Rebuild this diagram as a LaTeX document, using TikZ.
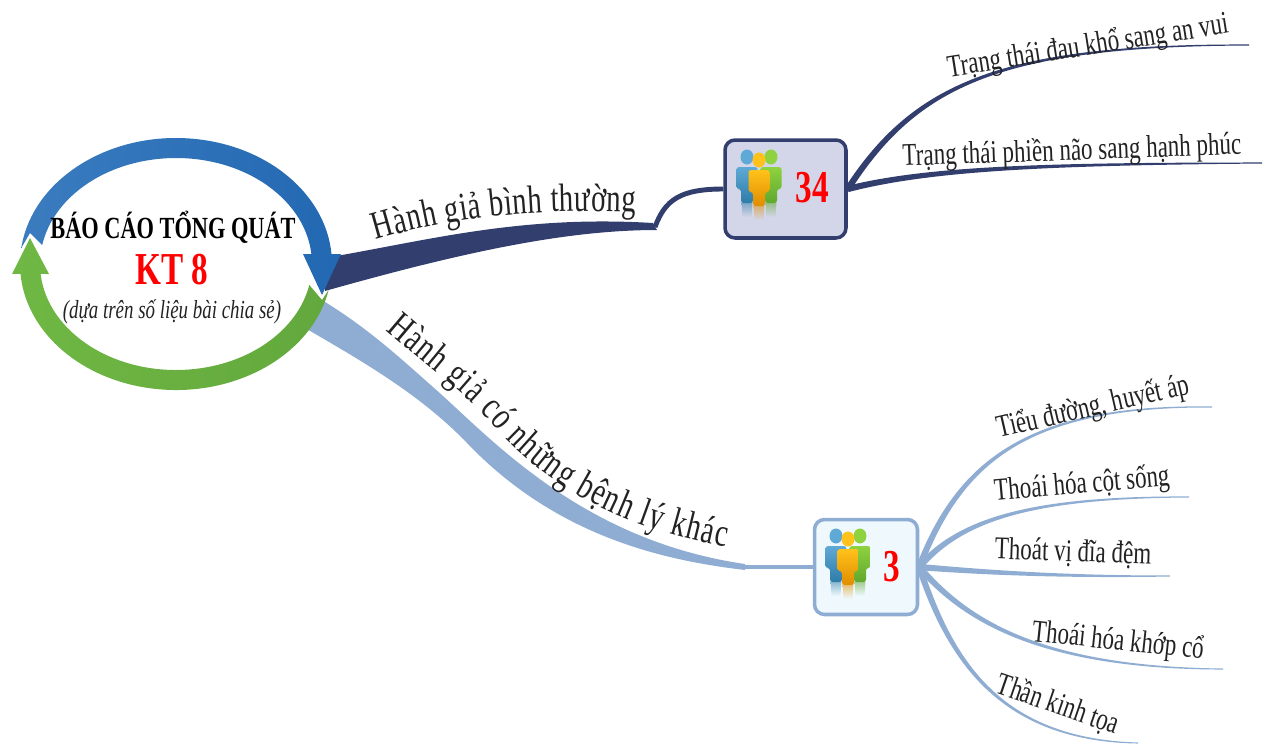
\documentclass[tikz,border=0pt]{standalone}
\usepackage{fontspec}
\usetikzlibrary{calc,decorations.text}
\setmainfont[FakeStretch=0.727]{Liberation Serif}
\definecolor{darkbranch}{HTML}{323E6D}
\definecolor{lightbranch}{HTML}{8FADD3}
\definecolor{boxdark}{HTML}{D3D6E8}
\definecolor{boxlight}{HTML}{EFF9FD}
\definecolor{textink}{HTML}{222222}
\definecolor{headblue}{HTML}{5FA9D6}
\definecolor{footblue}{HTML}{2E7CA8}
\definecolor{headgreen}{HTML}{8FD23F}
\definecolor{footgreen}{HTML}{5FA82F}
\definecolor{headorange}{HTML}{FFC21A}
\definecolor{footorange}{HTML}{E08C00}
\definecolor{ringblueA}{HTML}{3B7CBF}
\definecolor{ringblueB}{HTML}{2268B2}
\definecolor{ringgreenA}{HTML}{70B844}
\definecolor{ringgreenB}{HTML}{62A83D}
\newcommand{\branchfont}{\fontsize{22.5}{25}\selectfont\color{textink}}
% tapered curve: style, start, control, control, end
\newcommand{\leafline}[5]{%
\fill[#1] ($(#2)!1.8pt!90:(#3)$)
 .. controls ($(#3)!1.5pt!-90:(#2)$) and ($(#4)!.8pt!90:(#5)$) .. ($(#5)!.3pt!-90:(#4)$)
 -- ($(#5)!.3pt!90:(#4)$)
 .. controls ($(#4)!.8pt!-90:(#5)$) and ($(#3)!1.5pt!90:(#2)$) .. ($(#2)!1.8pt!-90:(#3)$) -- cycle;}
\tikzset{
  leaflabel/.style={font=\fontsize{18}{20}\selectfont, text=textink, inner sep=0pt},
  countlabel/.style={font=\fontsize{26}{28}\selectfont\bfseries, text=red, inner sep=0pt},
  groupbox/.style={rounded corners=.2cm, line width=2pt, inner sep=0pt},
  pics/person/.style n args={3}{code={
    \path[top color=#3!55!boxtone, bottom color=boxtone] (-5.5,-45) -- (5.5,-45) -- (4.5,-60) -- (-4.5,-60) -- cycle;
    \path[top color=#1, bottom color=#2, rounded corners=1.5pt] (-10.5,-10) -- (10.5,-10) -- (10.5,-32) -- (6,-32)
      -- (6,-46) -- (-6,-46) -- (-6,-32) -- (-10.5,-32) -- cycle;
    \fill[#1] (0,0) ellipse (6.5 and 7.5);
  }},
  pics/people/.style={code={
    \colorlet{boxtone}{#1}
    \pic at (-12,23) {person={headblue}{footblue}{footblue}};
    \pic at (12,23) {person={headgreen}{footgreen}{footgreen}};
    \pic at (0,20) {person={headorange}{footorange}{footorange}};
  }},
}
\begin{document}
\begin{tikzpicture}[x=0.02cm,y=0.02cm]
\useasboundingbox (0,0) rectangle (1269,-745);
\coordinate (ring) at (176,-264);
\coordinate (darkelbow) at (655,-227);
\coordinate (lightelbow) at (742,-567);
\coordinate (darkhead) at (376,-240);
\coordinate (darkend) at (636,-212);
\coordinate (lighthead) at (386,-330);
\coordinate (lightend) at (726,-547);
% group boxes
\node[groupbox, draw=darkbranch, fill=boxdark, minimum width=2.42cm, minimum height=1.96cm] (group1) at (785.5,-189) {};
\node[groupbox, draw=lightbranch, fill=boxlight, minimum width=2.06cm, minimum height=1.9cm] (group2) at (866,-567) {};
\pic at (759,-180) {people=boxdark};
\pic at (848,-559) {people=boxlight};
\node[countlabel] (count1) at (812,-188) {34};
\node[countlabel] (count2) at (892,-567) {3};
% main branches
\fill[darkbranch] (325,-258) .. controls (430,-240) and (520,-215) .. (653,-223)
 -- (657,-230) .. controls (570,-230) and (470,-250) .. (325,-291) -- cycle;
\draw[darkbranch, line width=2.8pt] (darkelbow) .. controls (665,-200) and (680,-189) .. (group1.west);
\fill[lightbranch] (315,-296) .. controls (365,-325) and (400,-358) .. (433,-387)
 .. controls (490,-437) and (580,-540) .. (745,-564)
 -- (745,-570) .. controls (660,-560) and (555,-535) .. (467,-443)
 .. controls (420,-394) and (360,-360) .. (305,-328) -- cycle;
\draw[lightbranch, line width=2.8pt] (lightelbow) -- (group2.west);
\path[decorate, decoration={text along path, text align={fit to path},
  text={|\branchfont|Hành giả bình thường}}]
  (darkhead) .. controls (450,-218) and (530,-208) .. (darkend);
\path[decorate, decoration={text along path, text align={fit to path},
  text={|\branchfont|Hành giả có những bệnh lý khác}}]
  (lighthead) .. controls (442,-378) and (472,-398) .. (502,-435)
  .. controls (552,-488) and (622,-528) .. (lightend);
% leaves
\coordinate (leaf1) at (1249,-45);
\coordinate (leaf2) at (1262,-163);
\coordinate (leafa) at (1212,-407);
\coordinate (leafb) at (1189,-497);
\coordinate (leafc) at (1170,-576);
\coordinate (leafd) at (1223,-669);
\coordinate (leafe) at (1138,-743);
\leafline{darkbranch}{group1.east}{915,-85}{1000,-45}{leaf1}
\leafline{darkbranch}{group1.east}{930,-168}{1050,-164}{leaf2}
\leafline{lightbranch}{group2.east}{960,-460}{1030,-405}{leafa}
\leafline{lightbranch}{group2.east}{960,-520}{1030,-497}{leafb}
\leafline{lightbranch}{group2.east}{980,-572}{1060,-577}{leafc}
\leafline{lightbranch}{group2.east}{965,-620}{1040,-668}{leafd}
\leafline{lightbranch}{group2.east}{950,-660}{1000,-740}{leafe}
\node[leaflabel, rotate=9] (labelp) at (1088,-47) {Trạng thái đau khổ sang an vui};
\node[leaflabel, rotate=2] (labelq) at (1072,-152) {Trạng thái phiền não sang hạnh phúc};
\node[leaflabel, rotate=13] (labela) at (1093,-408) {Tiểu đường, huyết áp};
\node[leaflabel, rotate=5] (labelb) at (1082,-485) {Thoái hóa cột sống};
\node[leaflabel, rotate=-2] (labelc) at (1073,-553) {Thoát vị đĩa đệm};
\node[leaflabel, rotate=-6] (labeld) at (1118,-642) {Thoái hóa khớp cổ};
\node[leaflabel, rotate=-19] (labele) at (1058,-705) {Thần kinh tọa};
% ring arrows
\path[left color=ringblueA, right color=ringblueB] ($(ring)+(172.7:156 and 126)$)
 arc[start angle=172.7, end angle=4.5, x radius=156, y radius=126]
 -- (341,-254) -- (322,-295) -- (303,-254) -- ($(ring)+(5.4:136 and 106)$)
 arc[start angle=5.4, end angle=169.7, x radius=136, y radius=106] -- (30,-233) -- cycle;
\path[left color=ringgreenA, right color=ringgreenB] ($(ring)+(-11.9:156 and 126)$)
 arc[start angle=-11.9, end angle=-175.5, x radius=156, y radius=126]
 -- (12,-274) -- (30,-238) -- (49,-274) -- ($(ring)+(-174.6:136 and 106)$)
 arc[start angle=-174.6, end angle=-11.4, x radius=136, y radius=106] -- (322,-300) -- cycle;
\node[font=\fontsize{17.5}{20}\selectfont\bfseries, text=black, inner sep=0pt] (title) at (173,-227) {BÁO CÁO TỔNG QUÁT};
\node[font=\fontsize{26}{28}\selectfont\bfseries, text=red, inner sep=0pt] (kt) at (172,-270) {KT 8};
\node[font=\fontsize{14.8}{16}\selectfont\itshape, text=textink, inner sep=0pt] (source) at (172,-312) {(dựa trên số liệu bài chia sẻ)};
\end{tikzpicture}
\end{document}
